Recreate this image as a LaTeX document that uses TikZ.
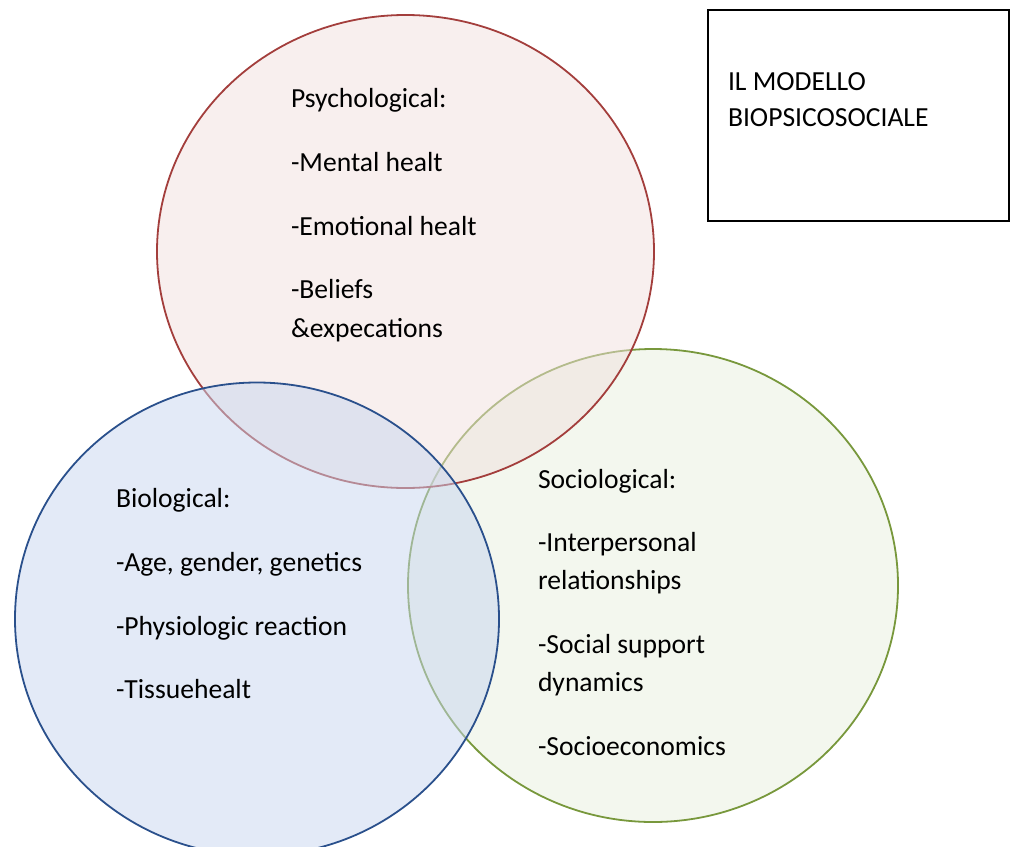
\documentclass[tikz,border=0pt]{standalone}
\usepackage{fontspec}
\setmainfont{Carlito}
\definecolor{redline}{RGB}{163,62,60}
\definecolor{redfill}{RGB}{241,223,221}
\definecolor{blueline}{RGB}{42,80,140}
\definecolor{bluefill}{RGB}{199,213,239}
\definecolor{greenline}{RGB}{120,152,60}
\definecolor{greenfill}{RGB}{231,239,221}
\tikzset{
  venn/.style={line width=1.8pt, fill opacity=0.5, draw opacity=1},
  txt/.style={anchor=base west, inner sep=0pt, outer sep=0pt, font=\fontsize{27.6}{36}\selectfont, text=black},
  titlebox/.style={draw=black, line width=1.4pt}
}
\begin{document}
\begin{tikzpicture}[x=1pt,y=-1pt]
\useasboundingbox (0,0) rectangle (1011,846);
\begin{scope}
\clip (0,0) rectangle (1011,846);
\path[venn, draw=greenline, fill=greenfill] (653,585.5) ellipse [x radius=245, y radius=236.5];
\path[venn, draw=redline, fill=redfill] (405.5,251.5) ellipse [x radius=248.5, y radius=236.5];
\path[venn, draw=blueline, fill=bluefill] (257,619) ellipse [x radius=242, y radius=236.5];
\end{scope}
% title box
\draw[titlebox] (708,10) rectangle (1009,221);
\node[txt] (t1) at (728,90) {IL MODELLO};
\node[txt] (t2) at (728,126) {BIOPSICOSOCIALE};
% psychological
\node[txt] (p0) at (291,107) {Psychological:};
\node[txt] (p1) at (291,171) {-Mental healt};
\node[txt] (p2) at (291,235) {-Emotional healt};
\node[txt] (p3) at (291,298) {-Beliefs};
\node[txt] (p4) at (291,337) {\&expecations};
% biological
\node[txt] (b0) at (116,507) {Biological:};
\node[txt] (b1) at (116,571) {-Age, gender, genetics};
\node[txt] (b2) at (116,635) {-Physiologic reaction};
\node[txt] (b3) at (116,698) {-Tissuehealt};
% sociological
\node[txt] (s0) at (538,488) {Sociological:};
\node[txt] (s1) at (538,551) {-Interpersonal};
\node[txt] (s2) at (538,589) {relationships};
\node[txt] (s3) at (538,653) {-Social support};
\node[txt] (s4) at (538,691) {dynamics};
\node[txt] (s5) at (538,755) {-Socioeconomics};
\end{tikzpicture}
\end{document}
